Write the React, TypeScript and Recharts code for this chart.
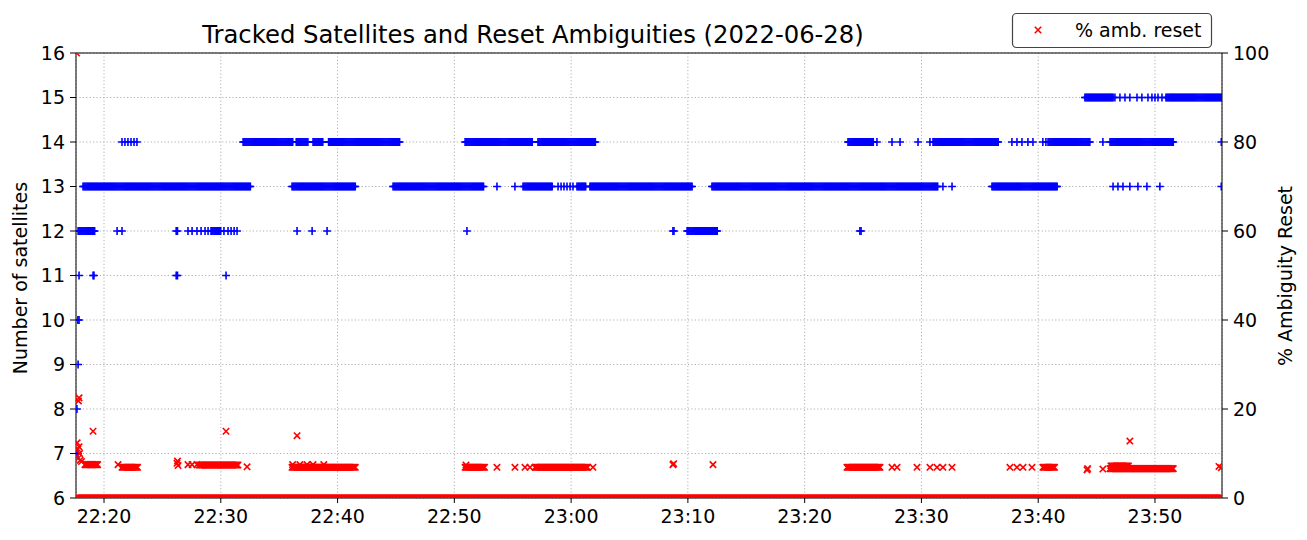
import React from "react";
import { ScatterChart, Scatter, XAxis, YAxis, CartesianGrid, ReferenceLine } from "recharts";

// time axis: minutes after 22:00 on 2022-06-28
const T_START = 17.6;
const T_END = 115.74;
const xTicks = [20, 30, 40, 50, 60, 70, 80, 90, 100, 110];
const satTicks = [6, 7, 8, 9, 10, 11, 12, 13, 14, 15, 16];
const pctTicks = [0, 20, 40, 60, 80, 100];

// one solution every 5 s
const EPOCH = 1 / 12;

// stretches where every epoch has the same satellite count: [from, to, count]
const satRuns: [number, number, number][] = [
  [17.78, 19.23, 12],
  [18.2, 32.5, 13],
  [29.16, 30.02, 12],
  [31.91, 36.18, 14],
  [36.1, 41.49, 13],
  [36.46, 37.49, 14],
  [37.9, 38.72, 14],
  [39.23, 45.35, 14],
  [44.75, 52.46, 13],
  [50.92, 56.65, 14],
  [55.88, 58.37, 13],
  [57.16, 62.05, 14],
  [60.5, 61.27, 13],
  [61.61, 70.35, 13],
  [69.93, 72.5, 12],
  [72.06, 91.41, 13],
  [83.71, 85.85, 14],
  [90.99, 96.55, 14],
  [96.04, 101.61, 13],
  [100.84, 104.43, 14],
  [104.0, 106.41, 15],
  [106.15, 111.54, 14],
  [110.94, 115.74, 15],
];

// isolated epochs: [time, count]
const satPoints: [number, number][] = [
  [17.68, 7], [17.76, 7], [17.68, 8], [17.78, 9], [17.76, 10], [17.86, 10],
  [17.86, 11], [19.06, 11], [19.14, 11],
  [21.12, 12], [21.54, 12],
  [21.54, 14], [21.79, 14], [22.05, 14], [22.31, 14], [22.57, 14], [22.82, 14],
  [26.18, 12], [26.29, 12], [26.18, 11], [26.29, 11],
  [27.19, 12], [27.54, 12], [27.96, 12], [28.31, 12], [28.65, 12], [28.91, 12],
  [30.27, 12], [30.62, 12], [30.88, 12], [31.14, 12], [31.39, 12],
  [30.45, 11],
  [36.53, 12], [37.82, 12], [39.1, 12],
  [51.08, 12],
  [53.65, 13], [55.19, 13],
  [58.88, 13], [59.14, 13], [59.39, 13], [59.65, 13], [59.91, 13], [60.16, 13],
  [68.72, 12], [68.81, 12],
  [84.73, 12], [84.83, 12],
  [86.19, 14], [87.48, 14], [88.17, 14], [89.71, 14], [90.73, 14],
  [91.84, 13], [92.62, 13],
  [97.75, 14], [98.18, 14], [98.61, 14], [99.12, 14], [99.55, 14],
  [100.4, 14], [100.66, 14],
  [105.54, 14],
  [106.41, 13], [106.83, 13], [107.26, 13], [107.85, 13], [108.54, 13], [109.31, 13], [110.42, 13],
  [106.57, 15], [107.0, 15], [107.43, 15], [107.85, 15], [108.46, 15], [108.88, 15],
  [109.4, 15], [109.74, 15], [110.0, 15], [110.26, 15], [110.6, 15],
  [115.68, 13], [115.68, 14],
];

// % of ambiguities reset, stretches: [from, to, percent]
const resetRuns: [number, number, number][] = [
  [17.6, 115.74, 0],
  [18.37, 19.48, 7.5],
  [21.54, 22.91, 6.9],
  [28.14, 31.47, 7.4],
  [36.1, 41.49, 6.9],
  [50.92, 52.62, 6.9],
  [56.91, 61.45, 6.9],
  [83.62, 86.45, 6.9],
  [100.4, 101.43, 6.9],
  [106.15, 111.54, 6.6],
  [106.23, 107.77, 7.2],
];

// % of ambiguities reset, isolated epochs: [time, percent]
const resetPoints: [number, number][] = [
  [17.65, 100],
  [17.81, 21.8], [17.86, 22.5],
  [17.7, 12.4], [17.86, 11.5], [17.76, 11], [17.91, 10], [17.81, 9], [17.96, 8.5], [18.07, 8.2],
  [19.06, 15],
  [21.2, 7.5],
  [26.25, 7.8], [26.29, 8.3], [26.34, 7.3],
  [27.19, 7.5], [27.54, 7.5], [27.96, 7.5],
  [30.45, 15],
  [32.25, 7],
  [36.53, 14],
  [36.15, 7.5], [36.77, 7.5], [37.38, 7.5], [37.9, 7.5], [38.82, 7.5],
  [51.0, 7.4],
  [53.65, 6.9], [55.19, 6.9], [56.05, 6.9], [56.48, 6.9], [61.87, 6.9],
  [68.72, 7.5], [68.78, 7.7],
  [72.15, 7.5],
  [87.48, 6.9], [87.91, 6.9], [89.62, 6.9], [90.73, 6.9], [91.33, 6.9], [91.84, 6.9], [92.62, 6.9],
  [97.58, 6.9], [98.18, 6.9], [98.7, 6.9], [99.47, 6.9],
  [104.18, 6.3], [104.23, 6.6],
  [105.54, 6.5],
  [107.85, 12.8],
  [115.48, 7.1], [115.68, 6.8],
];

const fromRuns = (runs: [number, number, number][]) =>
  runs.flatMap(([a, b, v]) => {
    const n = Math.round((b - a) / EPOCH);
    return Array.from({ length: n + 1 }, (_, i) => ({ t: a + i * EPOCH, y: v }));
  });

const satData = [...fromRuns(satRuns), ...satPoints.map(([t, y]) => ({ t, y }))];
const resetData = [...fromRuns(resetRuns), ...resetPoints.map(([t, y]) => ({ t, y }))];

const FONT = "DejaVu Sans, sans-serif";
const fmtTime = (t: number) => `${22 + Math.floor(t / 60)}:${String(Math.round(t % 60)).padStart(2, "0")}`;

const Plus = (p: any) => {
  const { cx, cy } = p;
  if (cx == null || cy == null) return <g />;
  const r = 3.9;
  return (
    <path d={`M${cx - r},${cy}H${cx + r}M${cx},${cy - r}V${cy + r}`} stroke="#0000ff" strokeWidth={1.6} fill="none" />
  );
};

const Cross = (p: any) => {
  const { cx, cy, payload } = p;
  if (cx == null || cy == null) return <g />;
  const r = 3.2;
  // markers on the axis edge are clipped like in the original
  if (payload && payload.y === 0)
    return <path d={`M${cx - r},${cy - r}L${cx},${cy}L${cx + r},${cy - r}`} stroke="#ff0000" strokeWidth={1.6} fill="none" />;
  return (
    <path
      d={`M${cx - r},${cy - r}L${cx + r},${cy + r}M${cx - r},${cy + r}L${cx + r},${cy - r}`}
      stroke="#ff0000"
      strokeWidth={1.6}
      fill="none"
    />
  );
};

const tickStyle = { fill: "#000", fontSize: 19, fontFamily: FONT };

export default function App() {
  return (
    <div style={{ position: "absolute", left: 0, top: 0, width: 1307, height: 540, background: "#fff" }}>
      <ScatterChart width={1307} height={540} margin={{ top: 53, right: 0, bottom: 0, left: 0 }}>
        <CartesianGrid yAxisId="sats" stroke="#b0b0b0" strokeDasharray="1.2 2.2" />
        <XAxis
          type="number"
          dataKey="t"
          domain={[T_START, T_END]}
          allowDataOverflow
          ticks={xTicks}
          tickFormatter={fmtTime}
          height={42}
          tick={tickStyle}
          tickSize={5}
          tickMargin={7}
          stroke="#000"
          tickLine={{ stroke: "#000" }}
        />
        <YAxis
          yAxisId="sats"
          type="number"
          dataKey="y"
          domain={[6, 16]}
          allowDataOverflow
          ticks={satTicks}
          width={76}
          tick={tickStyle}
          tickSize={6}
          tickMargin={5}
          stroke="#000"
          tickLine={{ stroke: "#000" }}
        />
        <YAxis
          yAxisId="pct"
          orientation="right"
          type="number"
          dataKey="y"
          domain={[0, 100]}
          allowDataOverflow
          ticks={pctTicks}
          width={85}
          tick={tickStyle}
          tickSize={6}
          tickMargin={5}
          stroke="#000"
          tickLine={{ stroke: "#000" }}
        />
        <ReferenceLine yAxisId="sats" y={16} stroke="#000" strokeWidth={1} />
        <Scatter yAxisId="sats" data={satData} shape={Plus} isAnimationActive={false} />
        <Scatter yAxisId="pct" data={resetData} shape={Cross} isAnimationActive={false} />
      </ScatterChart>
      <svg
        width={1307}
        height={540}
        style={{ position: "absolute", left: 0, top: 0, pointerEvents: "none" }}
        fontFamily={FONT}
      >
        <text x={533} y={43} textAnchor="middle" fontSize={24.3} fill="#000">
          Tracked Satellites and Reset Ambiguities (2022-06-28)
        </text>
        <text x={20} y={278} transform="rotate(-90 20 278)" textAnchor="middle" dominantBaseline="central" fontSize={19} fill="#000">
          Number of satellites
        </text>
        <text x={1285} y={276} transform="rotate(-90 1285 276)" textAnchor="middle" dominantBaseline="central" fontSize={19} fill="#000">
          % Ambiguity Reset
        </text>
        <rect x={1012.5} y={13.5} width={199} height={34} rx={4} fill="#fff" fillOpacity={0.8} stroke="#444" strokeWidth={1.2} />
        <path d="M1034.8,26.8L1041.2,33.2M1034.8,33.2L1041.2,26.8" stroke="#ff0000" strokeWidth={1.6} />
        <text x={1075} y={37} fontSize={19} fill="#000">
          % amb. reset
        </text>
      </svg>
    </div>
  );
}
